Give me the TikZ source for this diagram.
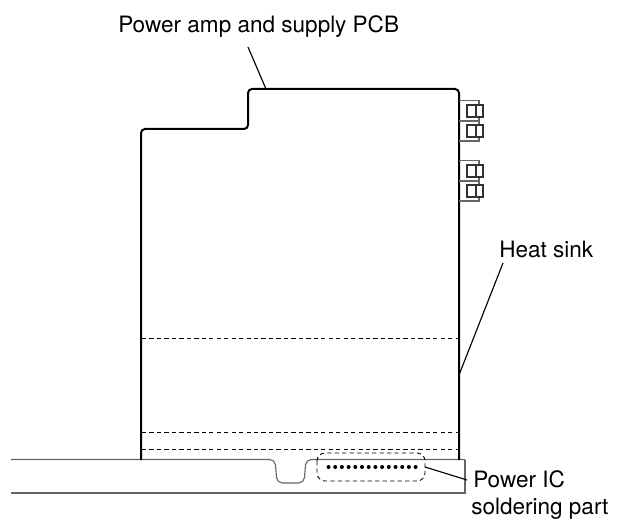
\documentclass[tikz,border=0pt]{standalone}
\usepackage{fontspec}
\setmainfont{TeX Gyre Heros}
\tikzset{
 pcb/.style={line width=1.5pt,rounded corners=3pt},
 thin line/.style={line width=0.85pt,draw=black!60},
 lead/.style={line width=0.85pt},
 dash line/.style={line width=0.65pt,dash pattern=on 3.2pt off 2.4pt},
 lab/.style={font=\fontsize{16.9}{20}\selectfont,inner sep=0pt,anchor=base west},
}
\begin{document}
\begin{tikzpicture}[x=0.75pt,y=-0.75pt]
\useasboundingbox (0,0) rectangle (620,520);
% board
\draw[thin line,rounded corners=4pt] (11,459.5) -- (275,459.5) -- (277,483) -- (304,483) -- (306,459.5) -- (465,459.5);
\draw[thin line] (465,459.5) -- (465,493) -- (11,493);
% dashed
\foreach \y in {338,432,449.5}{\draw[dash line] (142,\y) -- (459,\y);}
% PCB
\draw[pcb] (141,460) -- (141,129) -- (248,129) -- (248,89) -- (459,89) -- (459,460);
% connectors
\foreach \y in {0,60}{
 \draw[thin line] (459,100.5+\y) -- (479,100.5+\y) -- (479,105+\y);
 \draw[thin line] (479,117+\y) -- (479,125+\y);
 \draw[thin line] (459,121+\y) -- (479,121+\y);
 \draw[thin line] (479,137+\y) -- (479,141+\y) -- (459,141+\y);
 \foreach \b in {105,125}{
  \draw[line width=0.85pt,draw=black!80] (467,\b+\y) rectangle (483,\b+12+\y);
  \draw[line width=0.85pt,draw=black!80] (476,\b+\y) -- (476,\b+12+\y);
 }
}
% IC
\draw[dash line,rounded corners=6pt] (317,453) rectangle (425,481);
\foreach \i in {0,...,13}{\fill (328.5+\i*6.7,467) circle (1.5pt);}
% labels
\node[lab] (pcbl) at (118,33) {Power amp and supply PCB};
\node[lab] (hs) at (499,257) {Heat sink};
\node[lab] (ic) at (473,487) {Power IC};
\node[lab] (sp) at (471,514) {soldering part};
\coordinate (a1) at (248,47); \coordinate (a2) at (266,89);
\coordinate (b1) at (503,263); \coordinate (b2) at (459,375);
\coordinate (c1) at (425,467); \coordinate (c2) at (467,480);
\draw[lead] (a1) -- (a2);
\draw[lead] (b1) -- (b2);
\draw[lead] (c1) -- (c2);
\end{tikzpicture}
\end{document}
